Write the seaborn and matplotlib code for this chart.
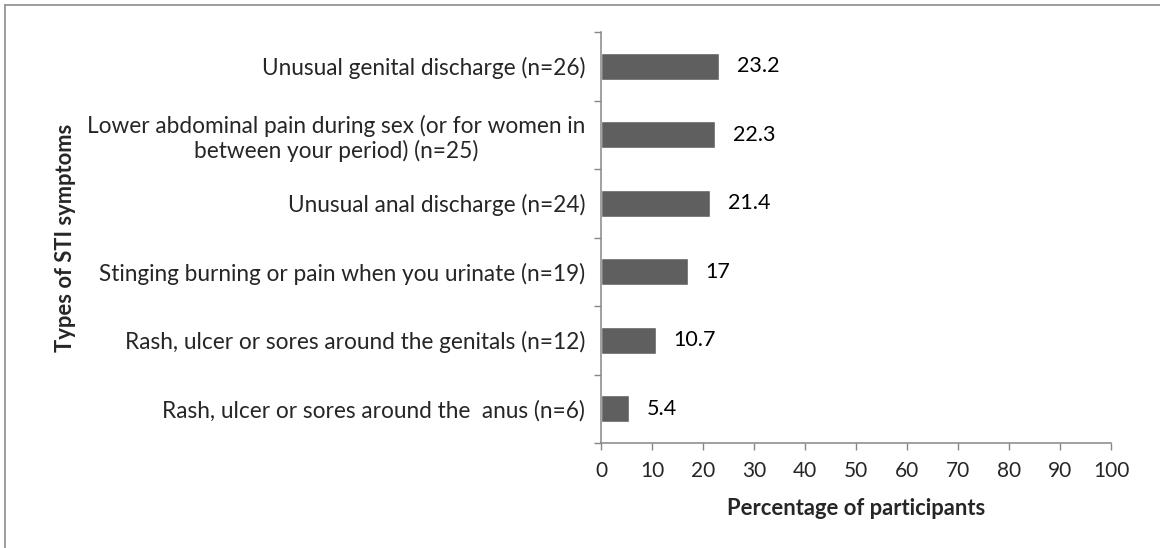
import matplotlib
matplotlib.use("Agg")
from matplotlib import pyplot as plt
from matplotlib.lines import Line2D
import numpy as np
import pandas as pd
import seaborn as sns

# data
symptoms = [
    "Unusual genital discharge (n=26)",
    "Lower abdominal pain during sex (or for women in\nbetween your period) (n=25)",
    "Unusual anal discharge (n=24)",
    "Stinging burning or pain when you urinate (n=19)",
    "Rash, ulcer or sores around the genitals (n=12)",
    "Rash, ulcer or sores around the  anus (n=6)",
]
percent = [23.2, 22.3, 21.4, 17, 10.7, 5.4]
value_labels = ["23.2", "22.3", "21.4", "17", "10.7", "5.4"]
x_ticks = list(range(0, 101, 10))

df = pd.DataFrame({"symptom": symptoms, "percent": percent})

sns.set_style("white")
plt.rcParams["font.family"] = ["Lato", "DejaVu Sans"]

fs_cat = 16.3
fs_num = 15
fs_lab = 15.8
axis_grey = "#868686"
bar_grey = "#5f5f5f"

fig = plt.figure(figsize=(11.6, 5.48), dpi=100)
ax = fig.add_axes([601 / 1160, 105 / 548, 510 / 1160, 411 / 548])

sns.barplot(data=df, x="percent", y="symptom", orient="h", color=bar_grey,
            width=0.4, saturation=1, ax=ax)

for i, (v, lab) in enumerate(zip(percent, value_labels)):
    ax.annotate(lab, (v, i), xytext=(13, 0), textcoords="offset points",
                ha="left", va="center", fontsize=fs_num + 0.5, color="black")

ax.set_xlim(0, 100)
ax.set_ylim(len(symptoms) - 0.5, -0.5)
ax.set_xticks(x_ticks)
ax.set_xticklabels([str(t) for t in x_ticks], fontsize=fs_num)

# category separators as in excel
ax.set_yticks(np.arange(-0.5, len(symptoms), 1), minor=True)
ax.tick_params(axis="y", which="major", length=0, pad=11.5, labelsize=fs_cat)
ax.tick_params(axis="y", which="minor", length=5, width=1, color=axis_grey,
               direction="out", left=True)
ax.tick_params(axis="x", which="major", length=5, width=1, color=axis_grey,
               direction="out", bottom=True, pad=8)
for lab in ax.get_yticklabels():
    lab.set_multialignment("center")

for s in ["top", "right"]:
    ax.spines[s].set_visible(False)
for s in ["left", "bottom"]:
    ax.spines[s].set_color(axis_grey)
    ax.spines[s].set_linewidth(1.1)

ax.set_xlabel("Percentage of participants", fontsize=fs_lab, fontweight="bold",
              labelpad=12)
ax.set_ylabel("Types of STI symptoms", fontsize=fs_lab, fontweight="bold")
ax.yaxis.set_label_coords((76 - 601) / 510, 0.5)

# chart area border (top and left edges visible)
fig.add_artist(Line2D([5 / 1160, 1.0], [1 - 5 / 548, 1 - 5 / 548],
                      transform=fig.transFigure, color="#8c8c8c", lw=1.2))
fig.add_artist(Line2D([5 / 1160, 5 / 1160], [0, 1 - 5 / 548],
                      transform=fig.transFigure, color="#8c8c8c", lw=1.2))

fig.savefig("out.png", dpi=100)
